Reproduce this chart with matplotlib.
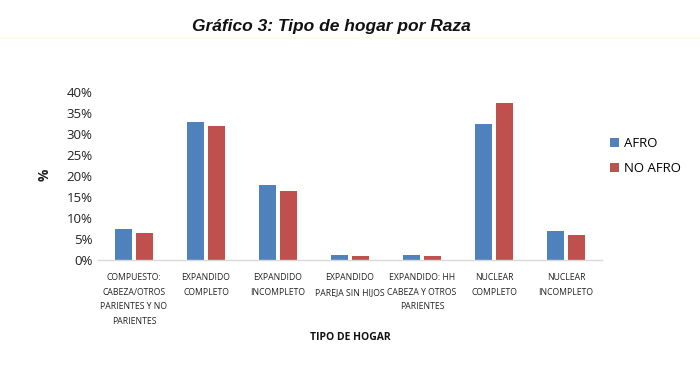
import matplotlib
matplotlib.use("Agg")
import matplotlib.pyplot as plt
import numpy as np
from matplotlib.lines import Line2D

categories = [
    "COMPUESTO:\nCABEZA/OTROS\nPARIENTES Y NO\nPARIENTES",
    "EXPANDIDO\nCOMPLETO",
    "EXPANDIDO\nINCOMPLETO",
    "EXPANDIDO\nPAREJA SIN HIJOS",
    "EXPANDIDO: HH\nCABEZA Y OTROS\nPARIENTES",
    "NUCLEAR\nCOMPLETO",
    "NUCLEAR\nINCOMPLETO",
]
afro = [7.4, 32.7, 17.9, 1.2, 1.1, 32.3, 6.9]
no_afro = [6.3, 31.9, 16.3, 1.0, 1.0, 37.3, 5.9]
yticks = [0, 5, 10, 15, 20, 25, 30, 35, 40]

blue = "#4F81BD"
red = "#C0504D"
font = ["Open Sans", "DejaVu Sans"]

fig = plt.figure(figsize=(7, 3.65), dpi=100)
fig.patch.set_facecolor("white")
fig.lines.append(Line2D([0, 1], [1 - 37.5 / 365] * 2, transform=fig.transFigure,
                        color="#fdfbe6", linewidth=1.2, zorder=-10))

ax = fig.add_axes([98 / 700, (365 - 260) / 365, 504 / 700, (260 - 91.7) / 365])
ax.set_facecolor("none")
x = np.arange(len(categories))
w = 0.225
ax.bar(x - 0.145, afro, width=w, color=blue, label="AFRO")
ax.bar(x + 0.145, no_afro, width=w, color=red, label="NO AFRO")

ax.set_xlim(-0.5, len(categories) - 0.5)
ax.set_ylim(0, 40)
ax.set_yticks(yticks)
ax.set_yticklabels([f"{v}%" for v in yticks], fontsize=9.5, family=font, color="#222222")
ax.set_xticks(x)
ax.set_xticklabels(categories, fontsize=6.2, family=font, linespacing=1.78, color="#222222")
ax.tick_params(axis="both", length=0)
ax.tick_params(axis="x", pad=9.5)
ax.tick_params(axis="y", pad=4)
for s in ["top", "right", "left"]:
    ax.spines[s].set_visible(False)
ax.spines["bottom"].set_color("#d9d9d9")
ax.spines["bottom"].set_linewidth(1.0)

fig.text(45 / 700, 1 - 175 / 365, "%", rotation=90, fontsize=10, fontweight="bold",
         family=font, ha="center", va="center", color="#222222")
fig.text(350 / 700, 1 - 338 / 365, "TIPO DE HOGAR", fontsize=7.5, fontweight="bold",
         family=font, ha="center", va="center", color="#111111")
fig.text(331 / 700, 1 - 27 / 365, "Gráfico 3: Tipo de hogar por Raza", fontsize=12.5,
         fontweight="bold", fontstyle="italic", family=["Liberation Sans", "DejaVu Sans"],
         ha="center", va="center", color="#111111")

leg = ax.legend(loc="upper left", bbox_to_anchor=(598 / 700, 1 - 125 / 365),
                bbox_transform=fig.transFigure, frameon=False, fontsize=9.5,
                prop={"family": font, "size": 9.5}, handlelength=0.7, handleheight=0.7,
                handletextpad=0.4, labelspacing=0.9)

fig.savefig("out.png", dpi=100)
